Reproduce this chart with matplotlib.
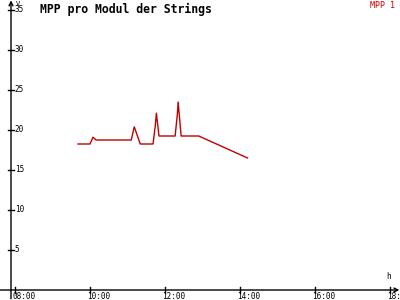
import matplotlib
matplotlib.use("Agg")
import matplotlib.pyplot as plt

# Data (hours of day, MPP voltage per module)
hours = [9.68, 10.00, 10.08, 10.16, 11.10, 11.18, 11.34, 11.68, 11.74, 11.77,
         11.84, 12.27, 12.33, 12.35, 12.43, 12.90, 14.20]
volts = [18.25, 18.25, 19.1, 18.75, 18.75, 20.4, 18.25, 18.25, 20.5, 22.1,
         19.25, 19.25, 22.0, 23.5, 19.25, 19.25, 16.5]

x_ticks = [8, 10, 12, 14, 16, 18]
x_labels = ["08:00", "10:00", "12:00", "14:00", "16:00", "18:00"]
y_ticks = [5, 10, 15, 20, 25, 30, 35]

line_color = "#c00000"
mono = "DejaVu Sans Mono"

fig = plt.figure(figsize=(4, 3), dpi=100)
ax = fig.add_axes([0, 0, 1, 1])
ax.set_xlim(7.6, 7.6 + 400 / 37.5)
ax.set_ylim(-1.25, 36.25)
ax.axis("off")

x0 = 7.6 + 11 / 37.5  # position of the y axis

# axes lines with small open arrows
arrow = dict(arrowstyle="->", lw=1, color="black", shrinkA=0, shrinkB=0,
             mutation_scale=7)
ax.annotate("", xy=(x0, 36.2), xytext=(x0, -1.1), arrowprops=arrow)
ax.annotate("", xy=(18.25, 0), xytext=(7.6, 0), arrowprops=arrow)

# y ticks
for v in y_ticks:
    ax.plot([x0 - 0.08, x0 + 0.08], [v, v], color="black", lw=1)
    ax.text(x0 + 0.1, v, str(v), fontsize=5.5, family=mono, va="center", ha="left")
ax.text(x0 + 0.12, 36.1, "V", fontsize=5, family=mono, va="top", ha="left")

# x ticks
for h, lab in zip(x_ticks, x_labels):
    ax.plot([h, h], [-0.4, 0.4], color="black", lw=1)
    ax.text(h - 0.08, -0.3, lab, fontsize=5.5, family=mono, va="top", ha="left")
ax.text(17.9, 1.1, "h", fontsize=5.5, family=mono, va="bottom", ha="left")

# data line
ax.plot(hours, volts, color=line_color, lw=1)

# title and legend text
fig.text(40 / 400, 1 - 9 / 300, "MPP pro Modul der Strings", fontsize=8.3,
         family=mono, fontweight="bold", va="center", ha="left")
fig.text(395 / 400, 1 - 1 / 300, "MPP 1", fontsize=6, family=mono,
         color="#cc0000", va="top", ha="right")

fig.savefig("out.png", dpi=100)
